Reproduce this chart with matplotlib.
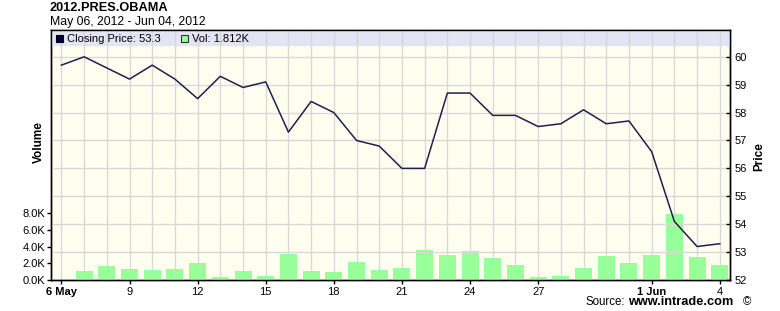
import matplotlib
matplotlib.use("Agg")
import matplotlib.pyplot as plt
from matplotlib.patches import Rectangle

plt.rcParams['font.family'] = ['Liberation Sans', 'DejaVu Sans']

# day index 0 = 6 May 2012 ... 29 = 4 Jun 2012
days = list(range(30))
price = [59.7, 60.0, 59.6, 59.2, 59.7, 59.2, 58.5, 59.3, 58.9, 59.1,
         57.3, 58.4, 58.0, 57.0, 56.8, 56.0, 56.0, 58.7, 58.7, 57.9,
         57.9, 57.5, 57.6, 58.1, 57.6, 57.7, 56.6, 54.1, 53.2, 53.3]
vol_k = [0.0, 1.1, 1.7, 1.3, 1.2, 1.3, 2.0, 0.4, 1.1, 0.5,
         3.1, 1.1, 1.0, 2.2, 1.2, 1.4, 3.6, 3.0, 3.5, 2.6,
         1.8, 0.35, 0.5, 1.4, 2.9, 2.0, 3.0, 7.9, 2.8, 1.812]
tick_days = [0, 3, 6, 9, 12, 15, 18, 21, 26, 29]
tick_labels = ['6 May', '9', '12', '15', '18', '21', '24', '27', '1 Jun', '4']
vol_ticks = [0, 2, 4, 6, 8]
price_ticks = [52, 53, 54, 55, 56, 57, 58, 59, 60]

W, H = 780, 311
fig = plt.figure(figsize=(W / 100, H / 100), dpi=100)
fig.patch.set_facecolor('white')
ax = fig.add_axes([50.5 / W, 1 - 280 / H, (730 - 50.5) / W, 250 / H])
ax.set_facecolor('#FFFFF0')
ax2 = ax.twinx()

# volume bars on left axis
ax.bar(days, vol_k, width=0.75, color='#99FF99', zorder=3)
ax.set_ylim(0, 30)
ax.set_xlim(-0.48, 29.45)
ax.set_yticks(vol_ticks)
ax.set_yticklabels(['%.1fK' % v for v in vol_ticks])

# grid: vertical every day, horizontal at price units
for d in days:
    ax.axvline(d, color='#D8D8D8', lw=1, zorder=1)
for p in price_ticks[1:]:
    ax2.axhline(p, color='#D8D8D8', lw=1, zorder=0)

ax2.plot(days, price, color='#1F1F4F', lw=1.1, zorder=5)
ax2.set_ylim(52, 60.96)
ax2.set_yticks(price_ticks)
ax2.axhspan(60.42, 61.5, color='#E4E4F4', zorder=-1)
ax.set_zorder(0)
ax2.set_zorder(1)
ax2.patch.set_visible(False)

ax.set_xticks(tick_days)
ax.set_xticklabels(tick_labels)
for lbl in ax.get_xticklabels():
    if lbl.get_text() in ('6 May', '1 Jun'):
        lbl.set_fontweight('bold')

for a in (ax, ax2):
    a.tick_params(labelsize=8, length=3, width=1, color='black', pad=1)
    for s in a.spines.values():
        s.set_color('black')
        s.set_linewidth(1)
ax.tick_params(axis='x', pad=2)
ax2.tick_params(axis='y', direction='in', pad=3)

# vertical gridlines also go through the legend band
for d in days:
    ax2.axvline(d, ymin=235 / 250, ymax=1, color='#D8D8D8', lw=1, zorder=0)

fig.text(38.5 / W, 1 - 142 / H, 'Volume', rotation=90, ha='center', va='center',
         fontsize=8.5, fontweight='bold')
fig.text(759 / W, 1 - 157 / H, 'Price', rotation=90, ha='center', va='center',
         fontsize=8.5, fontweight='bold')

fig.text(49.5 / W, 1 - 11 / H, '2012.PRES.OBAMA', ha='left', va='baseline',
         fontsize=9.2, fontweight='bold')
fig.text(50 / W, 1 - 24.5 / H, 'May 06, 2012 - Jun 04, 2012', ha='left', va='baseline',
         fontsize=8.8)

# legend in the band
fig.patches.append(Rectangle((56 / W, 1 - 42 / H), 7 / W, 7 / H, transform=fig.transFigure,
                             facecolor='#000040', edgecolor='black', lw=0.8, zorder=10))
fig.text(67 / W, 1 - 38.5 / H, 'Closing Price: 53.3', ha='left', va='center', fontsize=8, zorder=10)
fig.patches.append(Rectangle((180.5 / W, 1 - 42 / H), 7 / W, 7 / H, transform=fig.transFigure,
                             facecolor='#99FF99', edgecolor='#333333', lw=0.8, zorder=10))
fig.text(192 / W, 1 - 38.5 / H, 'Vol: 1.812K', ha='left', va='center', fontsize=8, zorder=10)

# source line
fig.text(586 / W, 1 - 302 / H, 'Source:', ha='left', va='center', fontsize=8.3)
fig.text(628 / W, 1 - 302 / H, 'www.intrade.com', ha='left', va='center', fontsize=9.2,
         fontweight='bold')
fig.text(751 / W, 1 - 302 / H, '\u00a9', ha='right', va='center', fontsize=8.3)

fig.savefig('out.png', dpi=100)
